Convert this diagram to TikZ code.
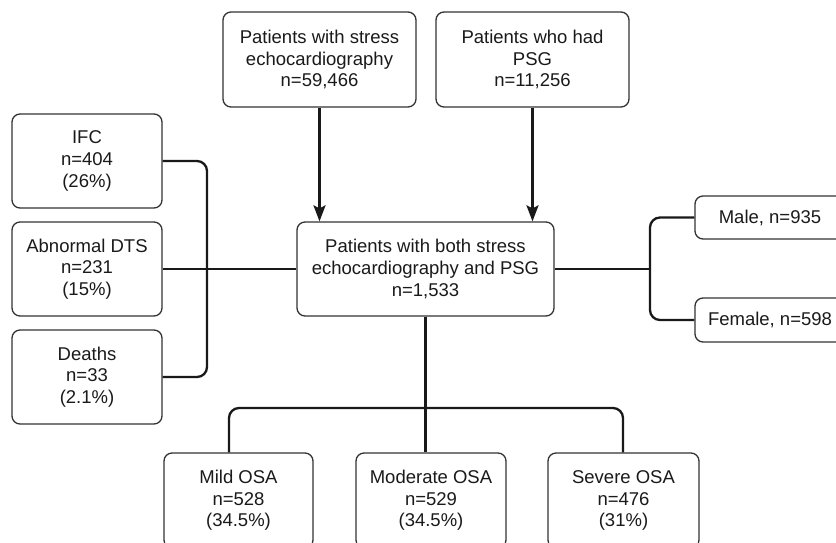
\documentclass[tikz,border=0pt]{standalone}
\usepackage{fontspec}
\setmainfont{Liberation Sans}
\usetikzlibrary{arrows.meta,calc}
\definecolor{boxline}{HTML}{333333}
\definecolor{txt}{HTML}{1A1A1A}
\tikzset{
  box/.style={draw=boxline, line width=1.3pt, rounded corners=8pt, fill=white,
    align=center, inner sep=0pt, text=txt,
    font=\fontsize{18.5}{21.7}\selectfont},
  conn/.style={line width=2.3pt, draw=black!90, rounded corners=10pt},
  arr/.style={line width=2.3pt, draw=black!90, -{Stealth[length=16pt,width=12pt,inset=3pt]}},
}
\begin{document}
\begin{tikzpicture}[x=1pt,y=-1pt]
\useasboundingbox (0,0) rectangle (836,542);
\clip (0,0) rectangle (836,542);
% nodes
\node[box, minimum width=193pt, minimum height=95pt] (top1) at (319.5,59.5) {Patients with stress\\echocardiography\\n=59,466};
\node[box, minimum width=193pt, minimum height=95pt] (top2) at (532.5,59.5) {Patients who had\\PSG\\n=11,256};
\node[box, minimum width=257pt, minimum height=94pt] (mid) at (425.5,269) {Patients with both stress\\echocardiography and PSG\\n=1,533};
\node[box, minimum width=150pt, minimum height=94pt] (ifc) at (87,161) {IFC\\n=404\\(26\%)};
\node[box, minimum width=150pt, minimum height=94pt] (abn) at (87,269) {Abnormal DTS\\n=231\\(15\%)};
\node[box, minimum width=150pt, minimum height=94pt] (dth) at (87,377) {Deaths\\n=33\\(2.1\%)};
\node[box, minimum width=150pt, minimum height=43pt] (male) at (770,217.5) {Male, n=935};
\node[box, minimum width=150pt, minimum height=44pt] (fem) at (770,320) {Female, n=598};
\node[box, minimum width=149pt, minimum height=95pt] (mild) at (238.5,500.5) {Mild OSA\\n=528\\(34.5\%)};
\node[box, minimum width=150pt, minimum height=95pt] (mod) at (431,500.5) {Moderate OSA\\n=529\\(34.5\%)};
\node[box, minimum width=151pt, minimum height=95pt] (sev) at (623.5,500.5) {Severe OSA\\n=476\\(31\%)};
% coordinates
\coordinate (lb) at (207,269);
\coordinate (rb) at (650,269);
\coordinate (bl) at (229,408);
\coordinate (br) at (623,408);
% arrows
\draw[arr] (top1.south) -- (top1.south |- mid.north);
\draw[arr] (top2.south) -- (top2.south |- mid.north);
% left bracket
\draw[conn] (ifc.east) -- (ifc.east -| lb) -- (dth.east -| lb) -- (dth.east);
\draw[conn] (abn.east) -- (mid.west);
% right bracket
\draw[conn] (male.west) -- (male.west -| rb) -- (fem.west -| rb) -- (fem.west);
\draw[conn] (mid.east) -- (rb);
% bottom bracket
\draw[conn] (mild.north -| bl) -- (bl) -- (br) -- (sev.north -| br);
\draw[conn] (mid.south) -- (mod.north -| mid.south);
\end{tikzpicture}
\end{document}
